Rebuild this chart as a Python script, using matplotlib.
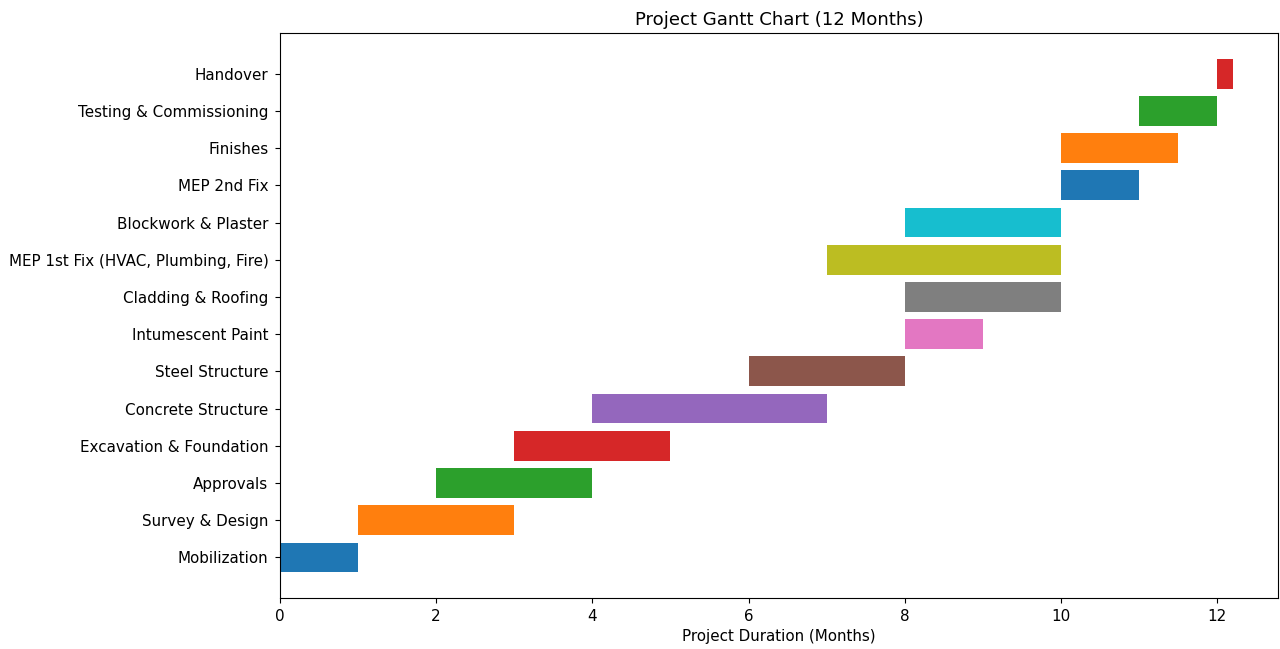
from matplotlib import pyplot as plt

# tasks, start month and duration (months)
tasks = ["Mobilization", "Survey & Design", "Approvals", "Excavation & Foundation",
         "Concrete Structure", "Steel Structure", "Intumescent Paint",
         "Cladding & Roofing", "MEP 1st Fix (HVAC, Plumbing, Fire)",
         "Blockwork & Plaster", "MEP 2nd Fix", "Finishes",
         "Testing & Commissioning", "Handover"]
starts = [0, 1, 2, 3, 4, 6, 8, 8, 7, 8, 10, 10, 11, 12]
durations = [1, 2, 2, 2, 3, 2, 1, 2, 3, 2, 1, 1.5, 1, 0.2]

plt.rcParams['font.size'] = 10.9
plt.rcParams['xtick.major.size'] = 3.8
plt.rcParams['ytick.major.size'] = 3.8
plt.rcParams['xtick.major.pad'] = 3.8
plt.rcParams['ytick.major.pad'] = 4.5

fig = plt.figure(figsize=(12.8, 6.49), dpi=100)
ax = fig.add_subplot(111)
fig.subplots_adjust(left=0.21875, right=0.9984, top=0.949, bottom=0.0786)

# one barh call per task so each gets the next colour in the cycle
for task, start, dur in zip(tasks, starts, durations):
    ax.barh(task, dur, left=start)

ax.set_xlim(0, 12.78)
ax.set_xlabel("Project Duration (Months)")
ax.set_title("Project Gantt Chart (12 Months)")

plt.savefig("out.png")
